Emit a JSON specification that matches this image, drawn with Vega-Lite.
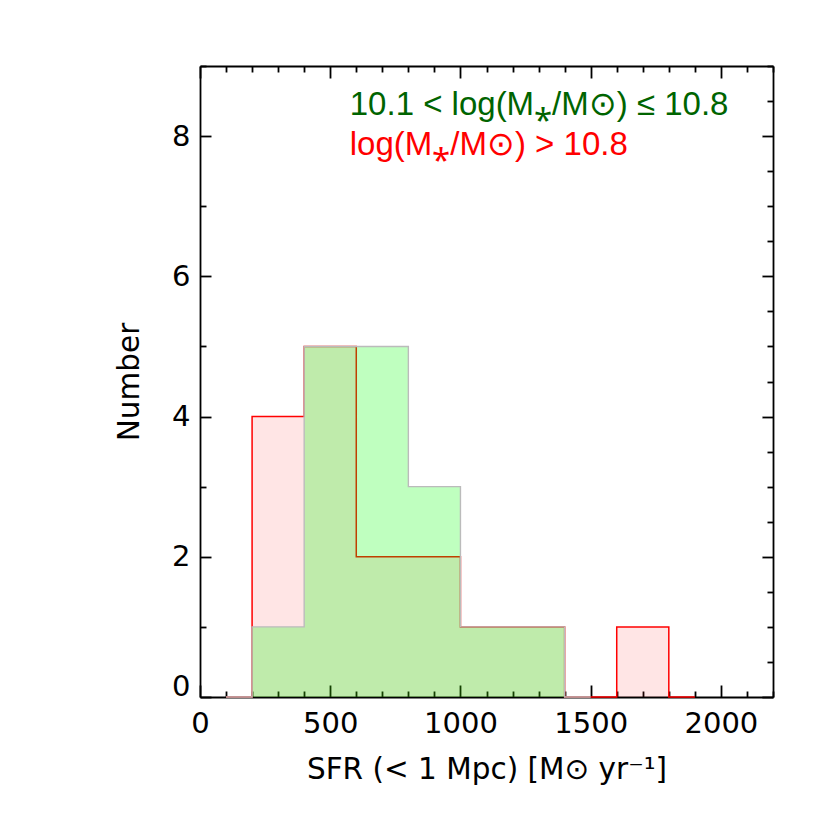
{
  "$schema": "https://vega.github.io/schema/vega-lite/v6.json",
  "description": "Histogram of SFR within 1 Mpc for two stellar-mass bins.",
  "width": 573,
  "height": 631,
  "autosize": "none",
  "padding": {"left": 200, "top": 66, "right": 57, "bottom": 133},
  "config": {
    "view": {"stroke": null},
    "font": "DejaVu Sans",
    "axis": {
      "grid": false,
      "zindex": 1,
      "domainColor": "black",
      "domainWidth": 1.8,
      "tickColor": "black",
      "tickWidth": 1.8,
      "labelFont": "DejaVu Sans",
      "labelFontSize": 29,
      "labelColor": "black",
      "labelFlush": false,
      "labelOverlap": false,
      "titleFont": "DejaVu Sans",
      "titleFontSize": 29.5,
      "titleFontWeight": "normal",
      "titleColor": "black"
    }
  },
  "datasets": {
    "hist": [
      {"set": "high", "sfr": 100, "n": 0},
      {"set": "high", "sfr": 200, "n": 4},
      {"set": "high", "sfr": 400, "n": 5},
      {"set": "high", "sfr": 600, "n": 2},
      {"set": "high", "sfr": 800, "n": 2},
      {"set": "high", "sfr": 1000, "n": 1},
      {"set": "high", "sfr": 1200, "n": 1},
      {"set": "high", "sfr": 1400, "n": 0},
      {"set": "high", "sfr": 1600, "n": 1},
      {"set": "high", "sfr": 1800, "n": 0},
      {"set": "high", "sfr": 1900, "n": 0},
      {"set": "mid", "sfr": 100, "n": 0},
      {"set": "mid", "sfr": 200, "n": 1},
      {"set": "mid", "sfr": 400, "n": 5},
      {"set": "mid", "sfr": 600, "n": 5},
      {"set": "mid", "sfr": 800, "n": 3},
      {"set": "mid", "sfr": 1000, "n": 1},
      {"set": "mid", "sfr": 1200, "n": 1},
      {"set": "mid", "sfr": 1400, "n": 0},
      {"set": "mid", "sfr": 1500, "n": 0}
    ]
  },
  "data": {"name": "hist"},
  "layer": [
    {
      "transform": [{"filter": "datum.set === 'high'"}],
      "mark": {"type": "area", "interpolate": "step-after", "color": "#ff0000", "fillOpacity": 0.1},
      "encoding": {
        "x": {
          "field": "sfr", "type": "quantitative",
          "scale": {"domain": [0, 2200], "nice": false},
          "axis": {
            "orient": "bottom",
            "values": [0, 100, 200, 300, 400, 500, 600, 700, 800, 900, 1000, 1100, 1200, 1300, 1400, 1500, 1600, 1700, 1800, 1900, 2000, 2100, 2200],
            "format": "d",
            "labelExpr": "datum.value % 500 === 0 ? datum.label : ''",
            "tickSize": {"condition": {"test": "datum.value % 500 === 0", "value": -12}, "value": -6},
            "labelPadding": 24,
            "title": "SFR (< 1 Mpc) [M⊙ yr⁻¹]",
            "titlePadding": 11
          }
        },
        "y": {
          "field": "n", "type": "quantitative",
          "scale": {"domain": [0, 9], "nice": false},
          "axis": {
            "orient": "left",
            "values": [0, 0.5, 1, 1.5, 2, 2.5, 3, 3.5, 4, 4.5, 5, 5.5, 6, 6.5, 7, 7.5, 8, 8.5, 9],
            "format": "d",
            "labelExpr": "datum.value % 2 === 0 ? datum.label : ''",
            "tickSize": {"condition": {"test": "datum.value % 2 === 0", "value": -11}, "value": -6},
            "labelOffset": {"condition": {"test": "datum.value === 0", "value": -11}, "value": 0},
            "labelPadding": 21,
            "title": "Number",
            "titlePadding": 27
          }
        }
      }
    },
    {
      "transform": [{"filter": "datum.set === 'high'"}],
      "mark": {"type": "line", "interpolate": "step-after", "color": "#ff0000", "strokeWidth": 1.5},
      "encoding": {
        "x": {"field": "sfr", "type": "quantitative", "axis": null},
        "y": {"field": "n", "type": "quantitative", "axis": null}
      }
    },
    {
      "transform": [{"filter": "datum.set === 'mid'"}],
      "mark": {"type": "area", "interpolate": "step-after", "color": "#00ff00", "fillOpacity": 0.25},
      "encoding": {
        "x": {"field": "sfr", "type": "quantitative", "axis": null},
        "y": {"field": "n", "type": "quantitative", "axis": null}
      }
    },
    {
      "transform": [{"filter": "datum.set === 'mid'"}],
      "mark": {"type": "line", "interpolate": "step-after", "color": "#bbbbbb", "strokeWidth": 1.4},
      "encoding": {
        "x": {
          "field": "sfr", "type": "quantitative",
          "axis": {
            "orient": "top",
            "values": [0, 100, 200, 300, 400, 500, 600, 700, 800, 900, 1000, 1100, 1200, 1300, 1400, 1500, 1600, 1700, 1800, 1900, 2000, 2100, 2200],
            "labels": false,
            "title": null,
            "tickSize": {"condition": {"test": "datum.value % 500 === 0", "value": -12}, "value": -6}
          }
        },
        "y": {
          "field": "n", "type": "quantitative",
          "axis": {
            "orient": "right",
            "values": [0, 0.5, 1, 1.5, 2, 2.5, 3, 3.5, 4, 4.5, 5, 5.5, 6, 6.5, 7, 7.5, 8, 8.5, 9],
            "labels": false,
            "title": null,
            "tickSize": {"condition": {"test": "datum.value % 2 === 0", "value": -11}, "value": -6}
          }
        }
      }
    },
    {
      "data": {"values": [{"label": "10.1 < log(M⁎/M⊙) ≤ 10.8"}]},
      "mark": {"type": "text", "align": "left", "baseline": "alphabetic", "fontSize": 33, "font": "Liberation Sans", "color": "#006400"},
      "encoding": {
        "x": {"datum": 575, "type": "quantitative", "axis": null},
        "y": {"datum": 8.3, "type": "quantitative", "axis": null},
        "text": {"field": "label"}
      }
    },
    {
      "data": {"values": [{"label": "log(M⁎/M⊙) > 10.8"}]},
      "mark": {"type": "text", "align": "left", "baseline": "alphabetic", "fontSize": 33, "font": "Liberation Sans", "color": "#ff0000"},
      "encoding": {
        "x": {"datum": 575, "type": "quantitative", "axis": null},
        "y": {"datum": 7.73, "type": "quantitative", "axis": null},
        "text": {"field": "label"}
      }
    }
  ],
  "resolve": {"axis": {"x": "independent", "y": "independent"}}
}
